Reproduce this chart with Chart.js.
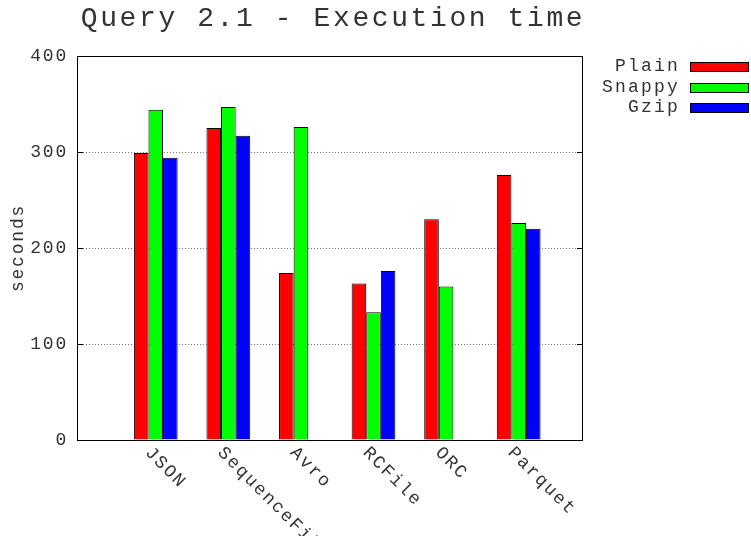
<!DOCTYPE html>
<html>
<head>
<meta charset="utf-8">
<style>
  html, body { margin: 0; padding: 0; background: #fff; }
  canvas { display: block; }
</style>
<script src="https://cdn.jsdelivr.net/npm/chart.js@4/dist/chart.umd.min.js"></script>
</head>
<body>
<canvas id="chart" width="751" height="536"></canvas>
<script>
// Query 2.1 execution time per storage format and compression codec
const formats = ['JSON', 'SequenceFile', 'Avro', 'RCFile', 'ORC', 'Parquet'];
const plain  = [299, 325, 174, 163, 230, 276];
const snappy = [344, 347, 326, 133, 160, 226];
const gzip   = [294, 317, null, 176, null, 220];
const yTicks = [0, 100, 200, 300, 400];

const FONT = 'Liberation Mono, Courier New, monospace';
const TEXT = '#333';
const SPACING = '1.8px';

const toPoints = vals => vals.map((v, i) => ({ x: i, y: v }));

// Title, rotated category labels, legend, frame and inward tick marks
const decorations = {
  id: 'decorations',
  beforeDraw(chart) {
    chart.ctx.letterSpacing = SPACING;
  },
  afterDraw(chart) {
    const ctx = chart.ctx;
    const area = chart.chartArea;
    const xs = chart.scales.x;
    const ys = chart.scales.y;

    ctx.save();
    // Title
    ctx.letterSpacing = '2.6px';
    ctx.font = '28px ' + FONT;
    ctx.fillStyle = TEXT;
    ctx.textAlign = 'center';
    ctx.textBaseline = 'middle';
    ctx.fillText('Query 2.1 - Execution time', 333, 19);
    ctx.restore();

    // Category labels, slanted downwards to the right
    ctx.save();
    ctx.letterSpacing = SPACING;
    ctx.font = '18px ' + FONT;
    ctx.fillStyle = TEXT;
    ctx.textAlign = 'left';
    ctx.textBaseline = 'middle';
    formats.forEach((name, i) => {
      const px = xs.getPixelForValue(i);
      ctx.save();
      ctx.translate(px - 8, area.bottom + 10);
      ctx.rotate(Math.PI / 4);
      ctx.fillText(name, 0, 0);
      ctx.restore();
    });
    ctx.restore();

    // Frame
    ctx.save();
    ctx.strokeStyle = '#000';
    ctx.lineWidth = 1;
    ctx.strokeRect(Math.round(area.left) + 0.5, Math.round(area.top) + 0.5,
                   Math.round(area.right - area.left) - 1, Math.round(area.bottom - area.top));
    // Inward tick marks on both vertical sides
    ctx.beginPath();
    yTicks.forEach(t => {
      const py = Math.round(ys.getPixelForValue(t)) + 0.5;
      ctx.moveTo(area.left, py); ctx.lineTo(area.left + 6, py);
      ctx.moveTo(area.right - 6, py); ctx.lineTo(area.right, py);
    });
    ctx.stroke();
    ctx.restore();

    // Legend: label on the left, colour swatch on the right
    ctx.save();
    ctx.letterSpacing = '2.2px';
    ctx.font = '18px ' + FONT;
    ctx.textAlign = 'right';
    ctx.textBaseline = 'middle';
    chart.data.datasets.forEach((ds, i) => {
      const cy = 66.5 + i * 20.5;
      ctx.fillStyle = TEXT;
      ctx.fillText(ds.label, 680, cy);
      ctx.fillStyle = ds.backgroundColor;
      ctx.fillRect(690, Math.round(cy - 4.5), 59, 9);
      ctx.strokeStyle = '#000';
      ctx.lineWidth = 1;
      ctx.strokeRect(690.5, Math.round(cy - 4.5) + 0.5, 58, 9);
    });
    ctx.restore();
  }
};

new Chart(document.getElementById('chart'), {
  type: 'bar',
  data: {
    datasets: [
      { label: 'Plain',  data: toPoints(plain),  backgroundColor: '#ff0000' },
      { label: 'Snappy', data: toPoints(snappy), backgroundColor: '#00ff00' },
      { label: 'Gzip',   data: toPoints(gzip),   backgroundColor: '#0000ff' }
    ]
  },
  options: {
    responsive: false,
    devicePixelRatio: 1,
    animation: false,
    layout: { padding: { left: 0, right: 168, top: 56, bottom: 0 } },
    datasets: {
      bar: {
        borderColor: '#000',
        borderWidth: 1,
        borderSkipped: 'start',
        categoryPercentage: 0.603,
        barPercentage: 1
      }
    },
    plugins: {
      legend: { display: false },
      title: { display: false },
      tooltip: { enabled: false }
    },
    scales: {
      x: {
        type: 'linear',
        min: -1.085,
        max: 5.886,
        offset: false,
        afterBuildTicks(scale) { scale.ticks = formats.map((_, i) => ({ value: i })); },
        grid: { display: false, offset: false },
        border: { display: false },
        ticks: { display: false },
        afterFit(scale) { scale.height = 96; }
      },
      y: {
        min: 0,
        max: 400,
        afterBuildTicks(scale) { scale.ticks = yTicks.map(v => ({ value: v })); },
        grid: { color: '#7a7a7a', lineWidth: 1, drawTicks: false },
        border: { display: false, dash: [1, 2] },
        ticks: {
          padding: 9,
          color: TEXT,
          font: { family: FONT, size: 18 }
        },
        title: {
          display: true,
          text: 'seconds',
          color: TEXT,
          font: { family: FONT, size: 18 },
          padding: { top: 7, bottom: 0 }
        },
        afterFit(scale) { scale.width = 77; }
      }
    }
  },
  plugins: [decorations]
});
</script>
</body>
</html>
